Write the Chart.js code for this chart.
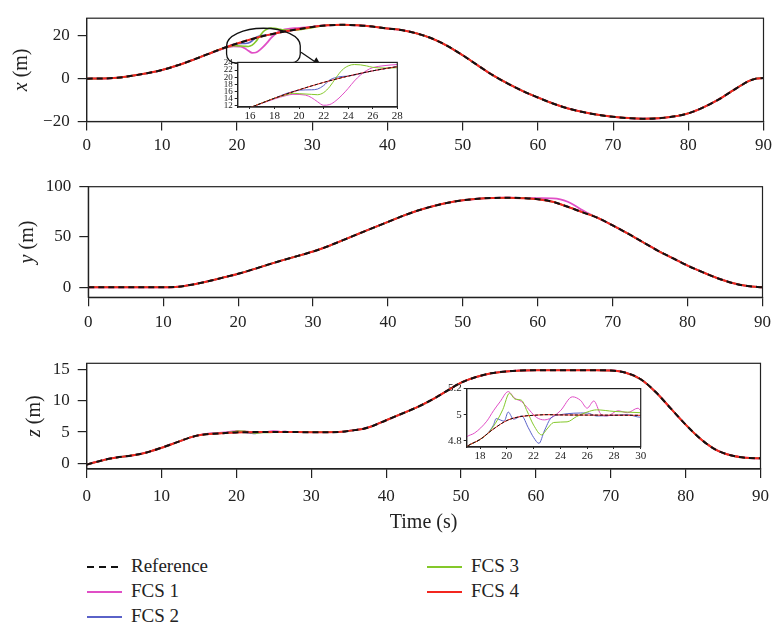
<!DOCTYPE html>
<html>
<head>
<meta charset="utf-8">
<script src="https://cdn.jsdelivr.net/npm/chart.js@4.4.1/dist/chart.umd.min.js"></script>
<style>
  body { margin: 0; background: #fff; }
  #wrap { position: relative; width: 777px; height: 631px; font-family: "Liberation Serif", "DejaVu Serif", serif; color: #222; }
  canvas { position: absolute; }
  .lg { position: absolute; font-size: 19px; line-height: 20px; }
  .sw { position: absolute; height: 1.6px; width: 35px; }
</style>
</head>
<body>
<div id="wrap">
  <canvas id="xChart" width="777" height="160" style="left:0;top:0"></canvas>
  <canvas id="yChart" width="777" height="180" style="left:0;top:160px"></canvas>
  <canvas id="zChart" width="777" height="200" style="left:0;top:340px"></canvas>
  <canvas id="xInset" width="195" height="72" style="left:212px;top:55px"></canvas>
  <canvas id="zInset" width="220" height="85" style="left:430px;top:380px"></canvas>
  <div id="legend"></div>
</div>
<script>
// Series names and colours
const seriesNames = ['Reference', 'FCS 1', 'FCS 2', 'FCS 3', 'FCS 4'];
const seriesColors = ['#111111', '#e04fc6', '#5a62c8', '#84c82a', '#f3261f'];

// x position (m)
const timeX = [0, 2, 4, 6, 8, 10, 12, 14, 16, 18, 20, 22, 24, 26, 28, 30, 32, 34, 36, 38, 40, 42, 44, 46, 48, 50,
  52, 54, 56, 58, 60, 62, 64, 66, 68, 70, 72, 74, 76, 78, 80, 82, 84, 86, 87, 88, 89, 90];
const refX = [0, 0.05, 0.4, 1.3, 2.5, 4.0, 6.1, 8.6, 11.3, 14.0, 16.4, 18.5, 20.3, 21.8, 23.0, 24.1, 24.9, 25.1, 24.9,
  24.3, 23.4, 22.6, 21.0, 18.6, 15.2, 10.9, 6.2, 1.6, -2.3, -5.8, -8.8, -11.6, -13.9, -15.6, -16.9, -17.8, -18.4,
  -18.7, -18.5, -17.7, -16.2, -13.4, -9.8, -5.4, -3.2, -1.2, 0, 0.3];
const fcs1X = [[18, 13.8], [19, 14.8], [19.5, 15.1], [20.5, 14.9], [21, 14.2], [21.5, 13.0], [22, 12.0], [22.5, 12.2],
  [23, 13.3], [23.5, 14.9], [24, 16.8], [24.5, 18.9], [25, 20.6], [25.5, 21.9], [26, 22.7], [27, 23.3], [28, 23.6], [30, 24.2]];
const fcs2X = [[19, 15.4], [19.5, 15.9], [20, 16.3], [21, 16.4], [21.5, 16.6], [22, 17.6], [22.5, 19.2], [23, 19.9], [23.5, 20.2]];
const fcs3X = [[19, 15.0], [19.5, 15.4], [20, 15.3], [21, 15.1], [21.5, 15.0], [22, 15.6], [22.5, 17.3], [23, 19.8],
  [23.5, 22.0], [24, 23.2], [24.5, 23.6], [25, 23.5], [25.5, 23.2], [26, 22.8], [27, 22.6], [28, 22.7], [30, 23.8]];

// y position (m)
const timeY = [0, 2, 4, 6, 8, 10, 12, 14, 16, 18, 20, 22, 24, 26, 28, 30, 32, 34, 36, 38, 40, 42, 44, 46, 48, 50,
  52, 54, 56, 58, 60, 62, 64, 66, 68, 70, 72, 74, 76, 78, 80, 82, 84, 86, 88, 90];
const refY = [0, 0, 0, 0, 0, 0, 0.5, 2.8, 6.0, 9.6, 13.4, 17.8, 22.5, 27.0, 31.2, 35.5, 40.8, 46.8, 53.0, 59.0, 65.0,
  71.0, 76.3, 80.6, 84.0, 86.5, 88.0, 88.8, 89.0, 88.6, 87.6, 85.0, 80.0, 74.5, 69.0, 61.5, 53.5, 45.0, 36.5, 29.0,
  21.5, 15.0, 9.0, 4.2, 1.2, 0];
const fcs1Y = [[58, 88.8], [60, 88.6], [62, 88.4], [63, 87.5], [64, 85.0], [65, 81.0], [66, 76.5], [66.8, 73.2]];
const fcs2Y = [];
const fcs3Y = [];

// z position (m)
const timeZ = [0, 1, 2, 3, 4, 6, 8, 10, 12, 14, 15, 16, 17, 18, 19, 20, 21, 22, 23, 24, 26, 28, 30, 32, 34, 36, 37,
  38, 40, 42, 44, 46, 48, 50, 52, 54, 56, 58, 60, 62, 64, 66, 68, 70, 72, 74, 76, 78, 80, 82, 84, 86, 88, 90];
const refZ = [-0.2, 0.15, 0.45, 0.75, 0.95, 1.25, 1.75, 2.5, 3.35, 4.2, 4.5, 4.66, 4.755, 4.81, 4.89, 4.955, 4.985,
  4.995, 5.0, 4.998, 4.997, 4.996, 4.995, 4.99, 5.05, 5.35, 5.55, 5.9, 6.9, 7.9, 8.9, 10.1, 11.5, 12.9, 13.8, 14.4,
  14.7, 14.85, 14.9, 14.9, 14.9, 14.9, 14.9, 14.85, 14.5, 13.45, 11.4, 8.8, 6.2, 3.9, 2.2, 1.3, 0.9, 0.8];
const fcs1Z = [[16, 4.72], [17, 4.83], [17.6, 4.86], [18.5, 4.95], [19, 5.03], [19.5, 5.1], [20.1, 5.177], [20.6, 5.125],
  [21.1, 5.1], [21.5, 5.057], [22.2, 4.98], [22.8, 4.96], [23.3, 4.975], [24, 5.03], [24.9, 5.137], [25.5, 5.11],
  [26, 5.05], [26.5, 5.105], [27, 5.007], [27.5, 4.99], [28.3, 5.03], [29, 5.015], [29.8, 5.05], [30, 5.03], [31, 5.0]];
const fcs2Z = [[18.5, 4.85], [19, 4.92], [19.2, 4.97], [19.5, 4.96], [19.8, 4.95], [20.1, 5.02], [20.5, 4.965],
  [21.1, 4.99], [21.6, 4.9], [22, 4.825], [22.4, 4.78], [22.8, 4.875], [23.3, 4.975], [24, 5.0], [26, 5.013],
  [26.7, 4.99], [28, 4.995], [29, 5.0], [30, 4.98], [31, 4.99]];
const fcs3Z = [[18.7, 4.87], [19.3, 4.96], [19.7, 5.04], [20.2, 5.165], [20.6, 5.12], [21.1, 5.11], [21.5, 5.03],
  [22, 4.92], [22.6, 4.845], [23, 4.89], [23.5, 4.94], [24.5, 4.945], [25.2, 4.985], [26, 5.02], [26.7, 5.037],
  [28, 5.025], [30, 5.015], [32, 5.0]];

// tick labels
const timeTicks = [0, 10, 20, 30, 40, 50, 60, 70, 80, 90];
const xTicks = [-20, 0, 20];
const yTicks = [0, 50, 100];
const zTicks = [0, 5, 10, 15];
const xInsetTimeTicks = [16, 18, 20, 22, 24, 26, 28];
const xInsetTicks = [12, 14, 16, 18, 20, 22, 24];
const zInsetTimeTicks = [18, 20, 22, 24, 26, 28, 30];
const zInsetTicks = [4.8, 5, 5.2];

const fam = '"Liberation Serif", "DejaVu Serif", serif';
const ink = '#222';
Chart.defaults.font.family = fam;
Chart.defaults.color = ink;

// FCS curves follow the reference except where listed
function buildSets(time, ref, devs, thin) {
  const refPts = time.map((t, i) => ({x: t, y: ref[i]}));
  const merge = dev => {
    if (!dev.length) return refPts;
    const t0 = dev[0][0], t1 = dev[dev.length - 1][0];
    return refPts.filter(p => p.x < t0 || p.x > t1)
      .concat(dev.map(d => ({x: d[0], y: d[1]})))
      .sort((a, b) => a.x - b.x);
  };
  const data = [refPts, merge(devs[0]), merge(devs[1]), merge(devs[2]), refPts];
  const widths = thin ? [1, 1, 1, 1, 1] : [2, 1.8, 1.6, 1.6, 2];
  const order = [0, 4, 3, 2, 1];
  return seriesNames.map((name, i) => ({
    label: name,
    data: data[i],
    borderColor: seriesColors[i],
    borderWidth: widths[i],
    borderDash: i === 0 ? (thin ? [3, 2] : [6, 4]) : [],
    pointRadius: 0,
    cubicInterpolationMode: 'monotone',
    order: order[i]
  }));
}

const fixTicks = vals => s => { s.ticks = vals.map(v => ({value: v})); };
const fmt = v => (v < 0 ? '\u2212' + Math.abs(v) : String(v));

// box, white inset background and axis titles
const frame = {
  id: 'frame',
  beforeDraw(chart, args, o) {
    if (!o.white) return;
    const a = chart.chartArea, ctx = chart.ctx;
    ctx.save();
    ctx.fillStyle = '#fff';
    ctx.fillRect(a.left, a.top, a.right - a.left, a.bottom - a.top);
    ctx.restore();
  },
  afterDraw(chart, args, o) {
    const a = chart.chartArea, ctx = chart.ctx;
    ctx.save();
    ctx.strokeStyle = ink;
    ctx.lineWidth = o.lw || 1.2;
    ctx.strokeRect(a.left, a.top, a.right - a.left, a.bottom - a.top);
    ctx.fillStyle = ink;
    ctx.textBaseline = 'middle';
    if (o.yVar) {
      const it = 'italic 20px ' + fam, pl = '20px ' + fam;
      ctx.font = it; const w1 = ctx.measureText(o.yVar).width;
      ctx.font = pl; const w2 = ctx.measureText(' (m)').width;
      ctx.save();
      ctx.translate(o.yTitleX, (a.top + a.bottom) / 2);
      ctx.rotate(-Math.PI / 2);
      ctx.textAlign = 'left';
      ctx.font = it; ctx.fillText(o.yVar, -(w1 + w2) / 2, 0);
      ctx.font = pl; ctx.fillText(' (m)', -(w1 + w2) / 2 + w1, 0);
      ctx.restore();
    }
    if (o.xTitle) {
      ctx.font = '20px ' + fam;
      ctx.textAlign = 'center';
      ctx.fillText(o.xTitle, (a.left + a.right) / 2, o.xTitleY);
    }
    ctx.restore();
  }
};

// callout around the zoomed region of the x plot
const callout = {
  id: 'callout',
  afterDraw(chart) {
    const sx = chart.scales.x, sy = chart.scales.y, ctx = chart.ctx;
    const L = sx.getPixelForValue(18.6), R = sx.getPixelForValue(28.4);
    const T = sy.getPixelForValue(23.5), B = sy.getPixelForValue(7.3);
    const cx = (L + R) / 2, rx = (R - L) / 2, ry = (B - T) * 0.5, r = 9;
    ctx.save();
    ctx.strokeStyle = '#111';
    ctx.lineWidth = 1.3;
    ctx.beginPath();
    ctx.ellipse(cx, T + ry, rx, ry, 0, Math.PI, 2 * Math.PI);
    ctx.lineTo(R, B - r);
    ctx.arcTo(R, B, R - r, B, r);
    ctx.lineTo(L + r, B);
    ctx.arcTo(L, B, L, B - r, r);
    ctx.closePath();
    ctx.stroke();
    const x0 = sx.getPixelForValue(28.5), y0 = sy.getPixelForValue(12.3);
    const x1 = sx.getPixelForValue(31.2), y1 = sy.getPixelForValue(5.9);
    const ang = Math.atan2(y1 - y0, x1 - x0), hl = 9, hw = 4.5;
    ctx.beginPath();
    ctx.moveTo(x0, y0);
    ctx.lineTo(x1 - hl * Math.cos(ang), y1 - hl * Math.sin(ang));
    ctx.stroke();
    ctx.fillStyle = '#111';
    ctx.beginPath();
    ctx.moveTo(x1, y1);
    ctx.lineTo(x1 - hl * Math.cos(ang) + hw * Math.sin(ang), y1 - hl * Math.sin(ang) - hw * Math.cos(ang));
    ctx.lineTo(x1 - hl * Math.cos(ang) - hw * Math.sin(ang), y1 - hl * Math.sin(ang) + hw * Math.cos(ang));
    ctx.closePath();
    ctx.fill();
    ctx.restore();
  }
};

function mainChart(id, sets, o) {
  return new Chart(document.getElementById(id), {
    type: 'line',
    data: {datasets: sets},
    plugins: [frame].concat(o.extra || []),
    options: {
      responsive: false,
      animation: false,
      events: [],
      layout: {padding: {top: o.top, right: o.right, left: 0, bottom: 0}},
      plugins: {
        legend: {display: false},
        tooltip: {enabled: false},
        frame: {yVar: o.yVar, yTitleX: o.yTitleX, xTitle: o.xTitle, xTitleY: o.xTitleY}
      },
      scales: {
        x: {
          type: 'linear', min: 0, max: 90,
          afterFit: s => { s.height = o.xh; },
          afterBuildTicks: fixTicks(timeTicks),
          grid: {drawOnChartArea: false, tickLength: 9, color: ink, lineWidth: 1.2},
          border: {display: true, color: ink, width: 1.2},
          ticks: {font: {size: 17}, padding: o.xpad, maxRotation: 0, autoSkip: false, callback: fmt}
        },
        y: {
          type: 'linear', min: o.min, max: o.max,
          afterFit: s => { s.width = o.left; },
          afterBuildTicks: fixTicks(o.ticks),
          grid: {drawOnChartArea: false, tickLength: 9, color: ink, lineWidth: 1.2},
          border: {display: true, color: ink, width: 1.2},
          ticks: {font: {size: 17}, padding: 8, autoSkip: false, callback: fmt}
        }
      }
    }
  });
}

function insetChart(id, sets, o) {
  return new Chart(document.getElementById(id), {
    type: 'line',
    data: {datasets: sets},
    plugins: [frame],
    options: {
      responsive: false,
      animation: false,
      events: [],
      layout: {padding: {top: o.top, right: o.right, left: 0, bottom: 0}},
      plugins: {legend: {display: false}, tooltip: {enabled: false}, frame: {white: true, lw: 1.2}},
      scales: {
        x: {
          type: 'linear', min: o.xmin, max: o.xmax,
          afterFit: s => { s.height = o.xh; },
          afterBuildTicks: fixTicks(o.xticks),
          grid: {drawOnChartArea: false, tickLength: 2, color: ink},
          border: {display: true, color: ink, width: 1.2},
          ticks: {font: {size: 11}, padding: 1, maxRotation: 0, autoSkip: false, callback: fmt}
        },
        y: {
          type: 'linear', min: o.ymin, max: o.ymax,
          afterFit: s => { s.width = o.left; },
          afterBuildTicks: fixTicks(o.yticks),
          grid: {drawOnChartArea: false, tickLength: 3, color: ink},
          border: {display: true, color: ink, width: 1.2},
          ticks: {font: {size: o.yfont}, padding: 2, autoSkip: false, callback: fmt}
        }
      }
    }
  });
}

mainChart('xChart', buildSets(timeX, refX, [fcs1X, fcs2X, fcs3X], false), {
  top: 7.5, right: 10.3, left: 86.7, xh: 38.5, xpad: 5, min: -20, max: 28.2, ticks: xTicks,
  yVar: 'x', yTitleX: 22, extra: [callout]
});
mainChart('yChart', buildSets(timeY, refY, [fcs1Y, fcs2Y, fcs3Y], false), {
  top: 26.7, right: 10.3, left: 88.3, xh: 42.7, xpad: 6, min: -10, max: 100, ticks: yTicks,
  yVar: 'y', yTitleX: 28
});
mainChart('zChart', buildSets(timeZ, refZ, [fcs1Z, fcs2Z, fcs3Z], false), {
  top: 23.3, right: 10.3, left: 86.7, xh: 71, xpad: 8, min: -0.9, max: 16, ticks: zTicks,
  yVar: 'z', yTitleX: 35, xTitle: 'Time (s)', xTitleY: 183
});

insetChart('xInset', buildSets(timeX, refX, [fcs1X, fcs2X, fcs3X], true), {
  top: 6.7, right: 9.7, left: 25.7, xh: 20, xmin: 15, xmax: 28, ymin: 11.5, ymax: 24.2,
  xticks: xInsetTimeTicks, yticks: xInsetTicks, yfont: 9
});
insetChart('zInset', buildSets(timeZ, refZ, [fcs1Z, fcs2Z, fcs3Z], true), {
  top: 7.7, right: 9.3, left: 36.7, xh: 18, xmin: 17, xmax: 30, ymin: 4.752, ymax: 5.2,
  xticks: zInsetTimeTicks, yticks: zInsetTicks, yfont: 11
});

// legend, two columns as in the figure
const legendPos = [[87, 567], [87, 592], [87, 617], [427, 567], [427, 592]];
const legend = document.getElementById('legend');
seriesNames.forEach((name, i) => {
  const [lx, ly] = legendPos[i];
  const sw = document.createElement('div');
  sw.className = 'sw';
  sw.style.left = lx + 'px';
  sw.style.top = (ly - 1) + 'px';
  sw.style.background = i === 0
    ? 'repeating-linear-gradient(to right, #111 0 7px, transparent 7px 12px)'
    : seriesColors[i];
  legend.appendChild(sw);
  const tx = document.createElement('div');
  tx.className = 'lg';
  tx.style.left = (lx + 44) + 'px';
  tx.style.top = (ly - 11) + 'px';
  tx.textContent = name;
  legend.appendChild(tx);
});
</script>
</body>
</html>
